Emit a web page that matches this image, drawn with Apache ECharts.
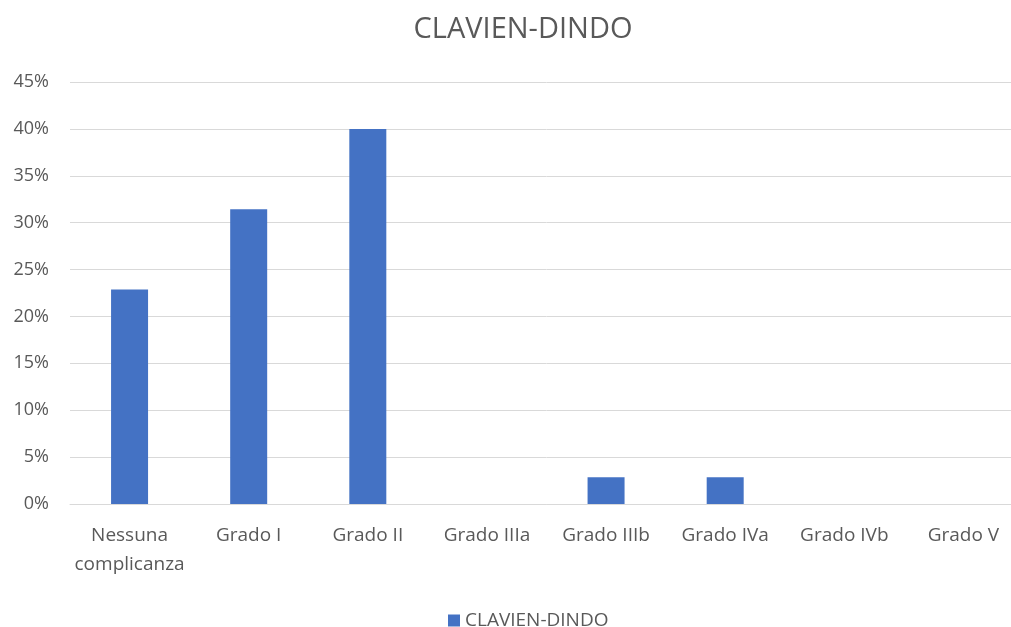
<!DOCTYPE html>
<html>
<head>
<meta charset="utf-8">
<script src="https://cdn.jsdelivr.net/npm/echarts@6/dist/echarts.min.js"></script>
<style>
  html, body { margin: 0; padding: 0; background: #fff; width: 1011px; height: 627px; overflow: hidden; }
  /* il grafico originale è tagliato a destra: il contenitore è più largo della finestra */
  #chart { width: 1046px; height: 627px; }
</style>
</head>
<body>
<div id="chart"></div>
<script>
// categorie Clavien-Dindo
const categories = ['Nessuna\ncomplicanza', 'Grado I', 'Grado II', 'Grado IIIa', 'Grado IIIb', 'Grado IVa', 'Grado IVb', 'Grado V']
// percentuali (su 35 pazienti)
const values = [22.86, 31.43, 40, 0, 2.86, 2.86, 0, 0]
const yTicks = { min: 0, max: 45, interval: 5 }

const chart = echarts.init(document.getElementById('chart'))
const textColor = '#595959'
const font = 'Open Sans'

const option = {
  animation: false,
  title: {
    text: 'CLAVIEN-DINDO',
    left: 'center',
    top: 10,
    textStyle: { color: textColor, fontFamily: font, fontSize: 29, fontWeight: 'normal' }
  },
  legend: {
    data: ['CLAVIEN-DINDO'],
    left: 443,
    top: 606,
    itemWidth: 12,
    itemHeight: 12,
    itemGap: 6,
    icon: 'rect',
    textStyle: { color: textColor, fontFamily: font, fontSize: 19 }
  },
  grid: {
    left: 70,
    right: 23,
    top: 82,
    bottom: 123
  },
  xAxis: {
    type: 'category',
    data: categories,
    axisLine: { lineStyle: { color: '#d9d9d9', width: 1 } },
    axisTick: { show: false },
    axisLabel: {
      color: textColor,
      fontFamily: font,
      fontSize: 19,
      lineHeight: 29,
      margin: 17,
      interval: 0
    }
  },
  yAxis: {
    type: 'value',
    min: yTicks.min,
    max: yTicks.max,
    interval: yTicks.interval,
    axisLine: { show: false },
    axisTick: { show: false },
    splitLine: { lineStyle: { color: '#d9d9d9', width: 1 } },
    axisLabel: {
      formatter: '{value}%',
      color: textColor,
      fontFamily: font,
      fontSize: 18,
      margin: 21
    }
  },
  series: [
    {
      name: 'CLAVIEN-DINDO',
      type: 'bar',
      data: values,
      barWidth: 37,
      itemStyle: { color: '#4472C4' }
    }
  ]
}

chart.setOption(option)
</script>
</body>
</html>
